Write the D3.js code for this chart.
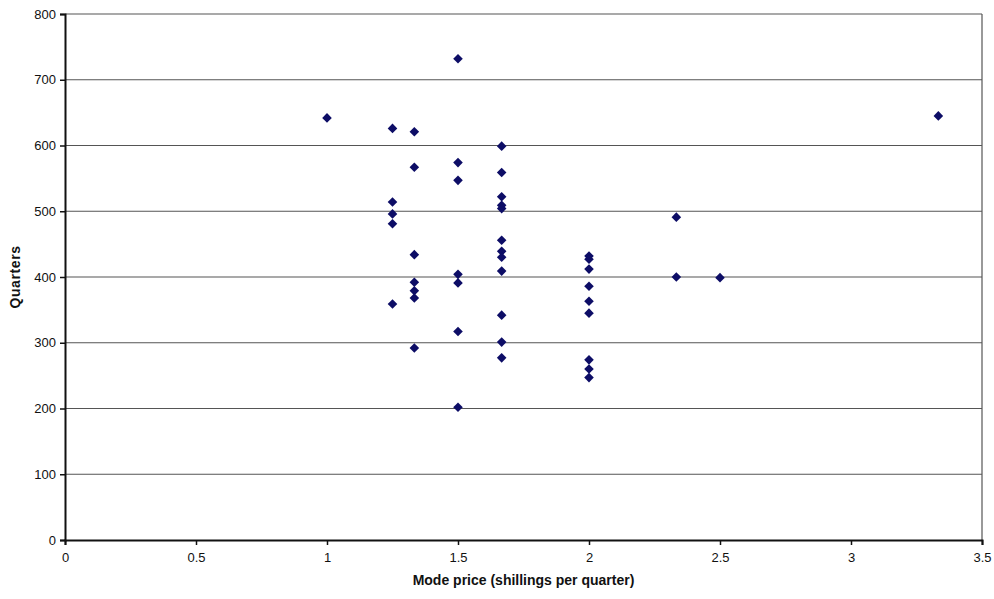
<!DOCTYPE html>
<html>
<head>
<meta charset="utf-8">
<script src="https://cdn.jsdelivr.net/npm/d3@7"></script>
<style>
  body { margin: 0; background: #fff; }
  text { font-family: "Liberation Sans", Arial, sans-serif; fill: #111; }
</style>
</head>
<body>
<svg width="994" height="599"></svg>
<script>
// mode price (shillings per quarter) and quarters, one column per price
const prices = [1, 1.25, 1.25, 1.25, 1.25, 1.25,
  4 / 3, 4 / 3, 4 / 3, 4 / 3, 4 / 3, 4 / 3, 4 / 3,
  1.5, 1.5, 1.5, 1.5, 1.5, 1.5, 1.5,
  5 / 3, 5 / 3, 5 / 3, 5 / 3, 5 / 3, 5 / 3, 5 / 3, 5 / 3, 5 / 3, 5 / 3, 5 / 3, 5 / 3,
  2, 2, 2, 2, 2, 2, 2, 2, 2,
  7 / 3, 7 / 3, 2.5, 10 / 3];
const quarters = [642, 626, 514, 496, 481, 359,
  621, 567, 434, 392, 379, 368, 292,
  732, 574, 547, 404, 391, 317, 202,
  599, 559, 522, 509, 504, 456, 439, 430, 409, 342, 301, 277,
  432, 427, 412, 386, 363, 345, 274, 260, 247,
  491, 400, 399, 645];
const xTicks = [0, 0.5, 1, 1.5, 2, 2.5, 3, 3.5];
const yTicks = [0, 100, 200, 300, 400, 500, 600, 700, 800];

const svg = d3.select("svg");
const margin = { left: 65, right: 12, top: 14, bottom: 59 };
const width = 994, height = 599;

const x = d3.scaleLinear().domain([0, 3.5]).range([margin.left, width - margin.right]);
const y = d3.scaleLinear().domain([0, 800]).range([height - margin.bottom, margin.top]);

// gridlines
svg.append("g")
  .selectAll("line")
  .data(yTicks.filter(d => d > 0))
  .enter()
  .append("line")
  .attr("x1", x(0)).attr("x2", x(3.5))
  .attr("y1", d => y(d)).attr("y2", d => y(d))
  .attr("stroke", "#555").attr("stroke-width", 1.2);

// right border
svg.append("line")
  .attr("x1", x(3.5)).attr("x2", x(3.5))
  .attr("y1", y(800)).attr("y2", y(0))
  .attr("stroke", "#555").attr("stroke-width", 1.2);

// axes
const xAxis = svg.append("g")
  .attr("transform", "translate(0," + y(0) + ")")
  .call(d3.axisBottom(x).tickValues(xTicks).tickSize(5).tickPadding(8).tickFormat(d3.format("")));
const yAxis = svg.append("g")
  .attr("transform", "translate(" + x(0) + ",0)")
  .call(d3.axisLeft(y).tickValues(yTicks).tickSize(5).tickPadding(4));

[xAxis, yAxis].forEach(function (g) {
  g.select(".domain").attr("stroke", "#111").attr("stroke-width", 2);
  g.selectAll(".tick line").attr("stroke", "#111").attr("stroke-width", 1.5);
  g.selectAll(".tick text").attr("font-size", 13).attr("font-family", "Liberation Sans, Arial, sans-serif").attr("fill", "#111");
});

// points
const pts = prices.map((p, i) => ({ p: p, q: quarters[i] }));
svg.append("g")
  .selectAll("path")
  .data(pts)
  .enter()
  .append("path")
  .attr("d", d3.symbol(d3.symbolSquare, 46))
  .attr("transform", d => "translate(" + x(d.p) + "," + y(d.q) + ") rotate(45)")
  .attr("fill", "#0d0d66");

// titles
svg.append("text")
  .attr("x", (x(0) + x(3.5)) / 2)
  .attr("y", 585)
  .attr("text-anchor", "middle")
  .attr("font-size", 14)
  .attr("font-weight", "bold")
  .text("Mode price (shillings per quarter)");

svg.append("text")
  .attr("transform", "translate(20," + (y(400)) + ") rotate(-90)")
  .attr("text-anchor", "middle")
  .attr("font-size", 14)
  .attr("font-weight", "bold")
  .attr("letter-spacing", 0.6)
  .text("Quarters");
</script>
</body>
</html>
